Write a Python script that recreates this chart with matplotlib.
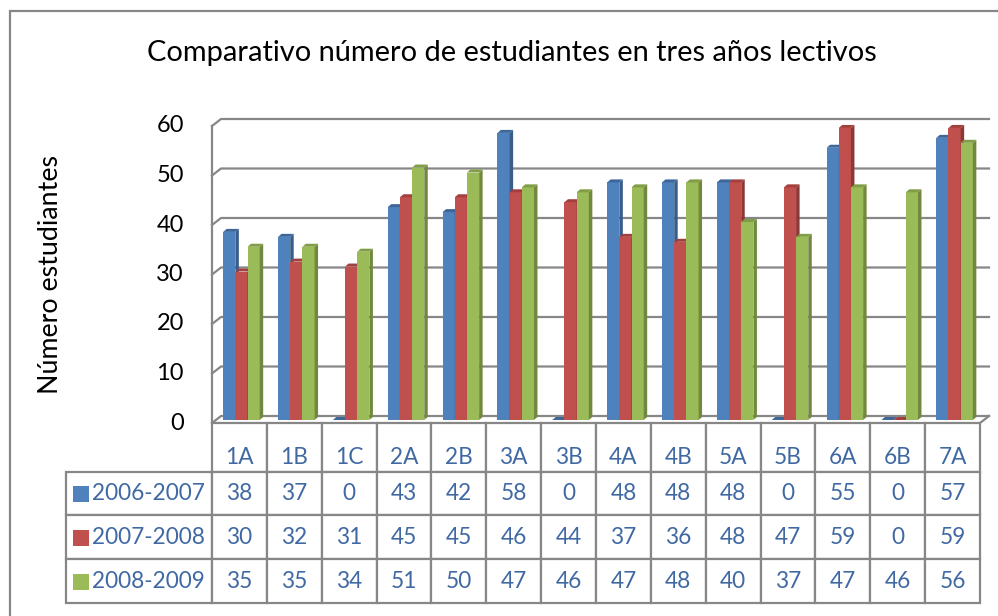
import matplotlib
matplotlib.use('Agg')
import matplotlib.pyplot as plt
from matplotlib.patches import Polygon, Rectangle
import numpy as np

plt.rcParams['font.family'] = ['Lato', 'DejaVu Sans']

cursos = ['1A', '1B', '1C', '2A', '2B', '3A', '3B', '4A', '4B', '5A', '5B', '6A', '6B', '7A']
anios = ['2006-2007', '2007-2008', '2008-2009']
est_0607 = [38, 37, 0, 43, 42, 58, 0, 48, 48, 48, 0, 55, 0, 57]
est_0708 = [30, 32, 31, 45, 45, 46, 44, 37, 36, 48, 47, 59, 0, 59]
est_0809 = [35, 35, 34, 51, 50, 47, 46, 47, 48, 40, 37, 47, 46, 56]
yticks = [0, 10, 20, 30, 40, 50, 60]

series = [est_0607, est_0708, est_0809]
front = ['#4F81BD', '#C0504D', '#9BBB59']
side = ['#385D8A', '#8C3836', '#71893F']
top = ['#3E6799', '#A33F3C', '#819D45']
grid_col = '#878787'
txt_col = '#4069A3'

W, H = 998, 616
fig = plt.figure(figsize=(W / 100, H / 100), dpi=100)

# front plane of the plot area, in pixels
x0, x1 = 212, 980
y0, y1 = 423, 126
ax = fig.add_axes([x0 / W, (H - y0) / H, (x1 - x0) / W, (y0 - y1) / H])
n = len(cursos)
ax.set_xlim(-0.5, n - 0.5)
ax.set_ylim(0, 60)
ax.axis('off')

# pixel -> data conversion
px_x = (x1 - x0) / n
px_y = (y0 - y1) / 60.0

# back wall offset, bar plane offset, bar depth
bdx, bdy = 9 / px_x, 7 / px_y
mdx, mdy = 2 / px_x, 3 / px_y
ddx, ddy = 3.5 / px_x, 3 / px_y

for v in yticks:
    ax.plot([-0.5, -0.5 + bdx, n - 0.5 + bdx], [v, v + bdy, v + bdy],
            color=grid_col, lw=1.6, clip_on=False, zorder=1)
ax.plot([-0.5, -0.5], [0, 60], color=grid_col, lw=1.6, clip_on=False, zorder=1)
ax.plot([n - 0.5, n - 0.5 + bdx], [0, bdy], color=grid_col, lw=1.6, clip_on=False, zorder=1)

# y tick labels
for v in yticks:
    ax.text(-0.5 - 28 / px_x, v, str(v), ha='right', va='center', fontsize=17, color='black')

ax.text(-0.5 - 161 / px_x, 30, 'Número estudiantes', rotation=90, ha='center', va='center',
        fontsize=19.3, color='black')

# 3d-looking bars
bw = 0.222
for k, vals in enumerate(series):
    for i, v in enumerate(vals):
        xl = i + (k - 1.5) * bw + mdx
        xr = xl + bw
        yb = mdy
        yt = v + mdy
        z = 3 + i * 0.01
        ax.add_patch(Rectangle((xl, yb), bw, v, facecolor=front[k], edgecolor='none',
                               clip_on=False, zorder=z))
        ax.add_patch(Polygon([(xr, yb), (xr + ddx, yb + ddy), (xr + ddx, yt + ddy), (xr, yt)],
                             closed=True, facecolor=side[k], edgecolor='none', clip_on=False, zorder=z))
        ax.add_patch(Polygon([(xl, yt), (xl + ddx, yt + ddy), (xr + ddx, yt + ddy), (xr, yt)],
                             closed=True, facecolor=top[k], edgecolor='none', clip_on=False, zorder=z))

# data table below the plot, first column holds the series names
cell_text = [[a] + [str(v) for v in s] for a, s in zip(anios, series)]
left_px = 66
tab = ax.table(cellText=cell_text, colLabels=[''] + cursos, cellLoc='center',
               bbox=[(left_px - x0) / (x1 - x0), -(603 - y0) / (y0 - y1),
                     (x1 - left_px) / (x1 - x0), 180 / (y0 - y1)])
tab.auto_set_font_size(False)
lab_w = (x0 - left_px) / px_x
for (r, c), cell in tab.get_celld().items():
    cell.set_edgecolor(grid_col)
    cell.set_linewidth(1.6)
    cell.get_text().set_color(txt_col)
    cell.get_text().set_fontsize(16.3)
    cell.set_width(lab_w if c == 0 else 1.0)
    cell.set_height(49 if r == 0 else 44)
    if r == 0:
        cell.get_text().set_va('top')
    if c == 0:
        cell.get_text().set_ha('right')
        cell.PAD = 0.05
        if r == 0:
            cell.visible_edges = ''

for k in range(len(anios)):
    yc = -(472 + 44 * k + 22 - y0) / px_y
    ax.scatter([-0.5 - (x0 - 81) / px_x], [yc], marker='s', s=135, color=front[k],
               clip_on=False, zorder=10, linewidths=0)

fig.text(512 / W, 1 - 53 / H, 'Comparativo número de estudiantes en tres años lectivos',
         ha='center', va='center', fontsize=20.9, color='black')

# outer chart border
fig.add_artist(Rectangle((10 / W, -0.1), 1.2, 1.1 - 11 / H, transform=fig.transFigure,
                         facecolor='none', edgecolor=grid_col, lw=1.6))

plt.savefig('out.png', dpi=100)
plt.close()
